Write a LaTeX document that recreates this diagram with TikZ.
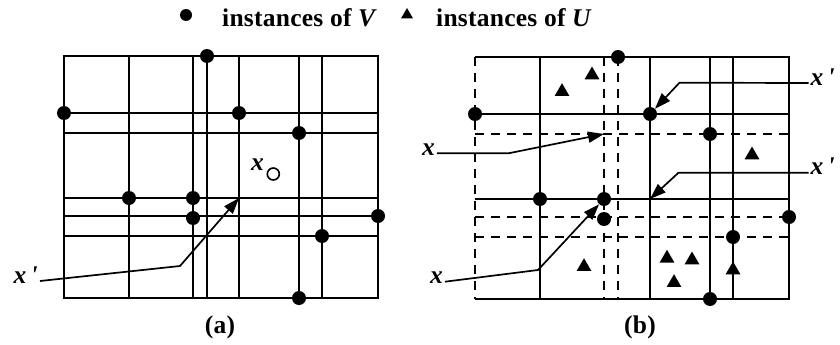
\documentclass[tikz,border=0pt]{standalone}
\usepackage{fontspec}
\setmainfont{Liberation Serif}[LetterSpace=1]
\usetikzlibrary{arrows.meta,shapes.geometric}
\newcommand\figfont{\fontsize{25.5}{30}\selectfont\bfseries}

\begin{document}
\begin{tikzpicture}[x=1pt, y=-1pt,
  grid/.style={line width=2pt},
  dgrid/.style={grid, dash pattern=on 9pt off 7pt},
  vdot/.style={circle, fill, inner sep=0pt, minimum size=14pt},
  utri/.style={regular polygon, regular polygon sides=3, fill, inner sep=0pt,
               minimum size=17pt},
  txt/.style={font=\figfont, inner sep=0pt},
  lbl/.style={font=\figfont\itshape, inner sep=2pt},
  ptr/.style={line width=1.7pt, -{Triangle[length=16pt,width=11pt]}}]
\useasboundingbox (0,0) rectangle (840,345);
% legend
\node[vdot, minimum size=12pt] (kv) at (186,15) {};
\node[txt, anchor=base west] (kvt) at (222,26.5) {instances of \textit{V}};
\node[utri, minimum size=14pt] (ku) at (407,15) {};
\node[txt, anchor=base west] (kut) at (436,26.5) {instances of \textit{U}};
% (a): every line solid
\draw[grid] (64,56) rectangle (378,298);
\foreach \gx in {129,193,207,239,299,322}
  \draw[grid] (\gx,56) -- (\gx,298);
\foreach \gy in {113,133,198,216,236}
  \draw[grid] (64,\gy) -- (378,\gy);
\foreach \px/\py [count=\i] in {207/56, 64/113, 239/113, 299/133,
    129/198, 193/198, 193/218, 378/216, 322/236, 299/298}
  \node[vdot] (a\i) at (\px,\py) {};
\node[circle, draw, line width=1.6pt, minimum size=12pt, inner sep=0pt] (xo) at (273.3,174) {};
\node[lbl, anchor=base] (xa) at (257.5,170) {x};
\coordinate (ka) at (180,266);
\coordinate (ta) at (239,198);
\node[lbl, anchor=mid east] (xpa) at (40,281) {x\,\textquotesingle};
\draw[ptr] (xpa.mid east) -- (ka) -- (ta);
\node[txt, anchor=base] (capa) at (220,333) {(a)};
% (b): same points, some lines dashed, plus instances of U
\begin{scope}[shift={(411,1)}]
\draw[dgrid] (64,56) -- (64,298);
\draw[grid] (64,56) -- (378,56) -- (378,298) -- (64,298);
\foreach \gx in {129,239,299,322}
  \draw[grid] (\gx,56) -- (\gx,298);
\foreach \gx in {193,207}
  \draw[dgrid] (\gx,56) -- (\gx,298);
\foreach \gy in {113,198}
  \draw[grid] (64,\gy) -- (378,\gy);
\foreach \gy in {133,216,236}
  \draw[dgrid] (64,\gy) -- (378,\gy);
\foreach \px/\py [count=\i] in {207/56, 64/113, 239/113, 299/133,
    129/198, 193/198, 193/218, 378/216, 322/236, 299/298}
  \node[vdot] (b\i) at (\px,\py) {};
\foreach \px/\py [count=\i] in {181/74, 151/90.7, 341/154, 173/265.7,
    256/257.3, 281/259, 263/281.7, 322/269}
  \node[utri] (u\i) at (\px,\py) {};
\node[lbl, anchor=mid west] (xpb1) at (397.5,82) {x\,\textquotesingle};
\coordinate (kb1) at (268.5,81.7);
\draw[ptr] (xpb1.mid west) -- (kb1) -- (b3);
\node[lbl, anchor=mid east] (xb1) at (26,152.3) {x};
\coordinate (kb2) at (97.5,152.3);
\coordinate (tb2) at (193,133);
\draw[ptr] (xb1.mid east) -- (kb2) -- (tb2);
\node[lbl, anchor=mid west] (xpb2) at (397.5,171.7) {x\,\textquotesingle};
\coordinate (kb3) at (267.5,171.7);
\coordinate (tb3) at (239,198);
\draw[ptr] (xpb2.mid west) -- (kb3) -- (tb3);
\node[lbl, anchor=mid east] (xb2) at (34,280.7) {x};
\coordinate (kb4) at (127,269);
\draw[ptr] (xb2.mid east) -- (kb4) -- (b6);
\node[txt, anchor=base] (capb) at (229,332) {(b)};
\end{scope}
\end{tikzpicture}
\end{document}
